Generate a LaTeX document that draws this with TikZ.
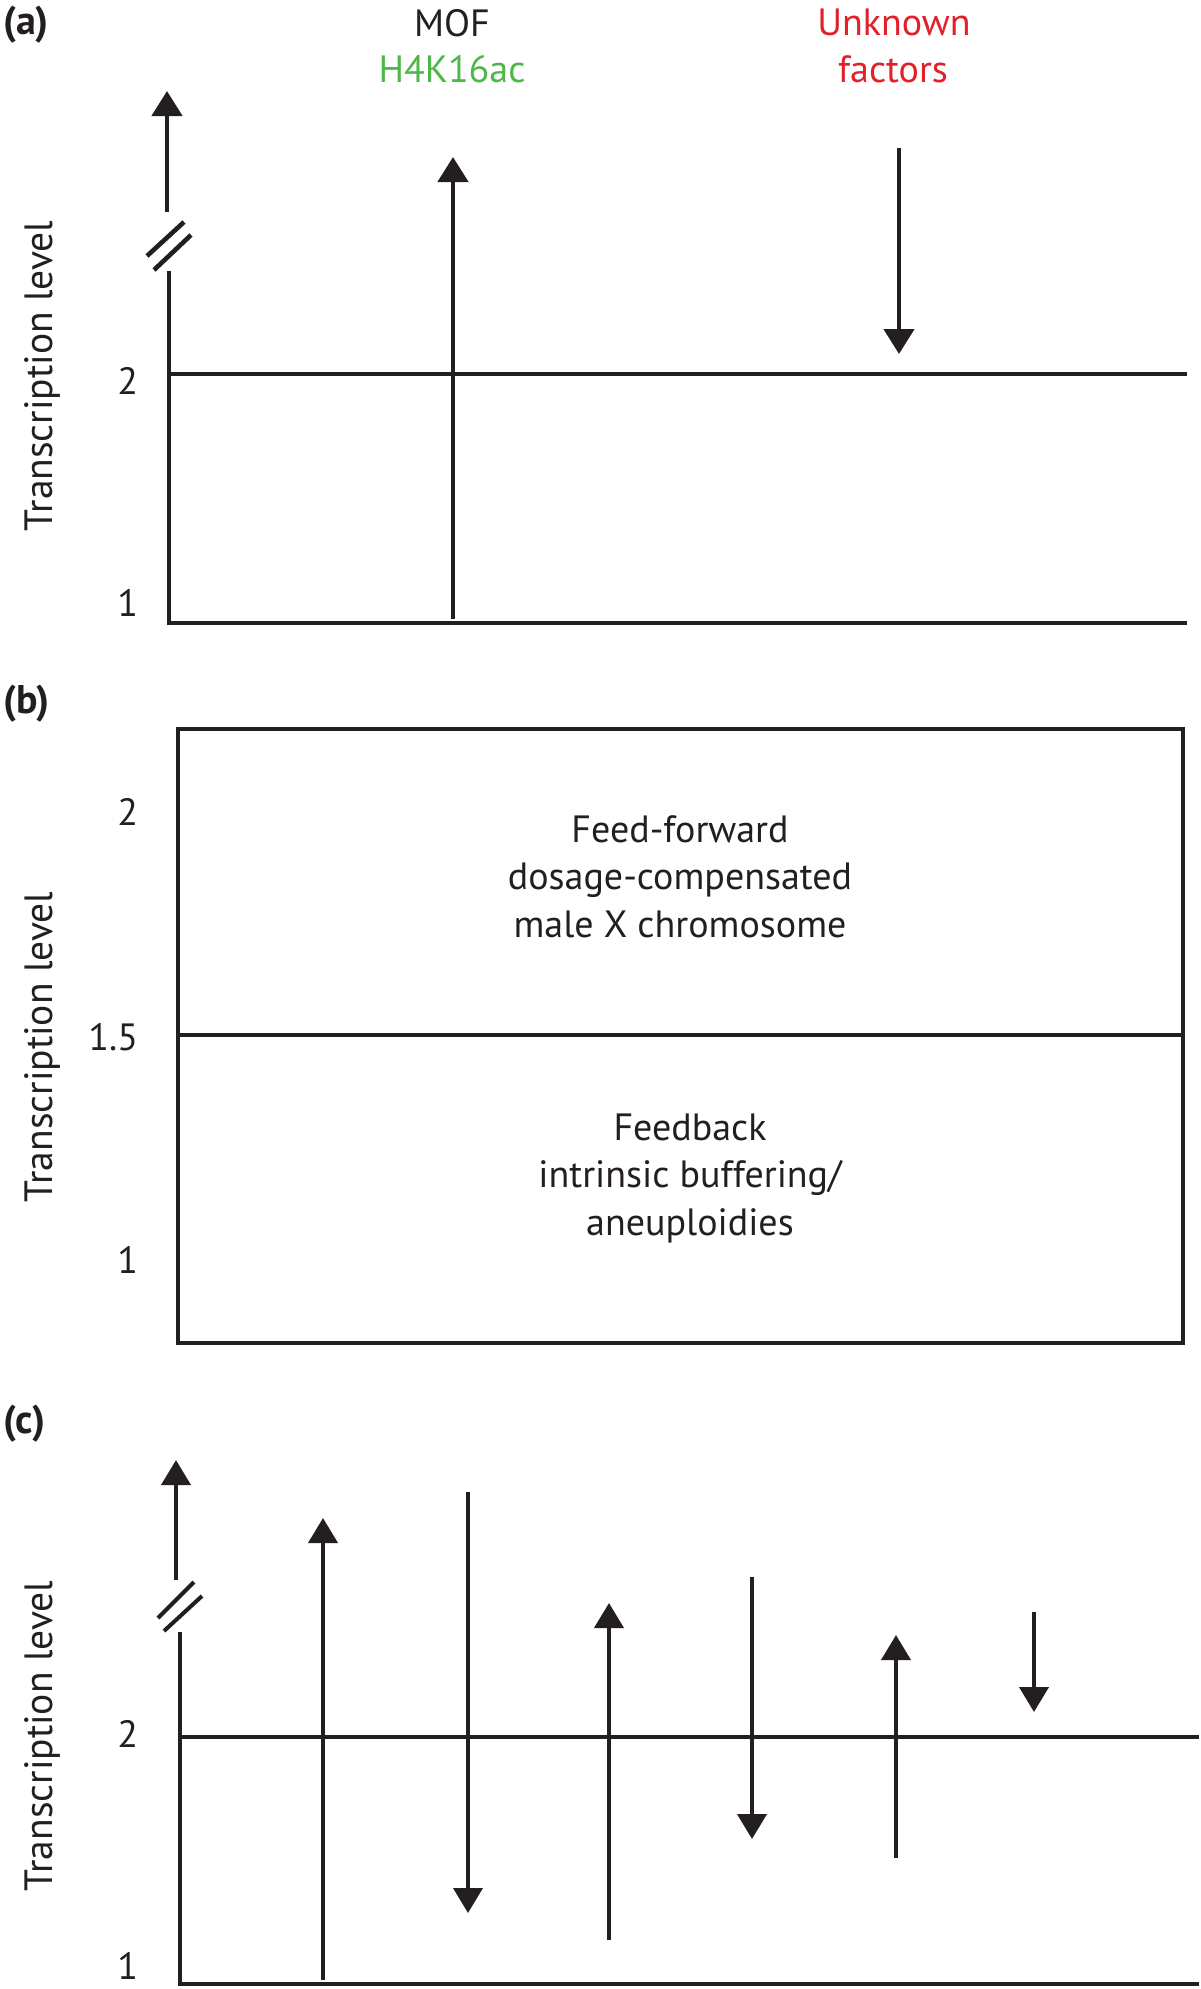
\documentclass[tikz,border=0pt]{standalone}
\usepackage{fontspec}
\setmainfont{PT Sans}
\usetikzlibrary{arrows.meta}
\definecolor{ink}{HTML}{231F20}
\definecolor{mofgreen}{HTML}{4CB848}
\definecolor{unkred}{HTML}{E3202A}
\begin{document}
\begin{tikzpicture}[x=1pt,y=-1pt,
  txt/.style={inner sep=0pt,outer sep=0pt,text=ink,font=\fontsize{38}{47.5}\selectfont},
  lbl/.style={inner sep=0pt,outer sep=0pt,text=ink,font=\fontsize{40}{44}\selectfont\bfseries},
  ylab/.style={txt,rotate=90,anchor=base,font=\fontsize{39.5}{47.5}\selectfont},
  num/.style={txt,anchor=base east},
  lnA/.style={draw=ink,line width=4.6pt},
  lnB/.style={draw=ink,line width=4.3pt},
  lnC/.style={draw=ink,line width=4pt},
  tipA/.style={-{Triangle[length=25pt,width=30pt]}},
  tipC/.style={-{Triangle[length=25pt,width=29pt]}}]
\useasboundingbox (0,0) rectangle (1200,1989);
\fill[white] (0,0) rectangle (1200,1989);

% ---------------- panel (a)
\node[lbl,anchor=base west] (la) at (3,34) {(a)};
\node[ylab] (ya) at (52,376) {Transcription level};
\node[num] (a2) at (138,394) {2};
\node[num] (a1) at (138,616) {1};
\node[txt,anchor=base] (mof) at (452,36) {MOF};
\node[txt,anchor=base,text=mofgreen] (h4) at (452,82) {H4K16ac};
\node[txt,anchor=base,text=unkred] (unk) at (894,35) {Unknown};
\node[txt,anchor=base,text=unkred] (fac) at (893,82) {factors};
\coordinate (aTop) at (169,271);
\coordinate (aO) at (169,623);
\coordinate (aR) at (1187,623);
\coordinate (a2L) at (169,374);
\coordinate (a2R) at (1187,374);
\draw[lnA,line join=miter] (aTop) -- (aO) -- (aR);
\draw[lnA] (a2L) -- (a2R);
\coordinate (aUpS) at (167,212); \coordinate (aUpE) at (167,91);
\draw[lnA,tipA] (aUpS) -- (aUpE);
\coordinate (aB1s) at (147,256); \coordinate (aB1e) at (184,222);
\coordinate (aB2s) at (154,270); \coordinate (aB2e) at (191,235);
\draw[lnA] (aB1s) -- (aB1e);
\draw[lnA] (aB2s) -- (aB2e);
\coordinate (mofS) at (453,619); \coordinate (mofE) at (453,157);
\draw[lnA,tipA] (mofS) -- (mofE);
\coordinate (unkS) at (899,148); \coordinate (unkE) at (899,354);
\draw[lnA,tipA] (unkS) -- (unkE);

% ---------------- panel (b)
\node[lbl,anchor=base west] (lb) at (3,713) {(b)};
\node[ylab] (yb) at (52,1047) {Transcription level};
\node[num] (b2) at (138,825) {2};
\node[num] (b15) at (138,1050) {1.5};
\node[num] (b1) at (138,1273) {1};
\coordinate (bTL) at (178,729);
\coordinate (bBR) at (1183,1343);
\draw[lnB] (bTL) rectangle (bBR);
\coordinate (bML) at (178,1035); \coordinate (bMR) at (1183,1035);
\draw[lnB] (bML) -- (bMR);
\node[txt,anchor=base] (ff1) at (680,842) {Feed-forward};
\node[txt,anchor=base] (ff2) at (680,889.5) {dosage-compensated};
\node[txt,anchor=base] (ff3) at (680,937) {male X chromosome};
\node[txt,anchor=base] (fb1) at (690,1140) {Feedback};
\node[txt,anchor=base] (fb2) at (690,1187.5) {intrinsic buffering/};
\node[txt,anchor=base] (fb3) at (690,1235) {aneuploidies};

% ---------------- panel (c)
\node[lbl,anchor=base west] (lc) at (3,1433) {(c)};
\node[ylab] (yc) at (52,1736) {Transcription level};
\node[num] (c2) at (138,1747) {2};
\node[num] (c1) at (138,1979) {1};
\coordinate (cTop) at (180,1632);
\coordinate (cO) at (180,1984);
\coordinate (cR) at (1199,1984);
\coordinate (c2L) at (180,1737);
\coordinate (c2R) at (1199,1737);
\draw[lnC,line join=miter] (cTop) -- (cO) -- (cR);
\draw[lnC] (c2L) -- (c2R);
\coordinate (cUpS) at (176,1580); \coordinate (cUpE) at (176,1460);
\draw[lnC,tipC] (cUpS) -- (cUpE);
\coordinate (cB1s) at (158,1618); \coordinate (cB1e) at (194,1582);
\coordinate (cB2s) at (164,1631); \coordinate (cB2e) at (202,1596);
\draw[lnC] (cB1s) -- (cB1e);
\draw[lnC] (cB2s) -- (cB2e);
\coordinate (c1s) at (323,1980); \coordinate (c1e) at (323,1518);
\coordinate (c2s) at (468,1492); \coordinate (c2e) at (468,1913);
\coordinate (c3s) at (609,1940); \coordinate (c3e) at (609,1603);
\coordinate (c4s) at (752,1577); \coordinate (c4e) at (752,1839);
\coordinate (c5s) at (896,1858); \coordinate (c5e) at (896,1635);
\coordinate (c6s) at (1034,1612); \coordinate (c6e) at (1034,1712);
\draw[lnC,tipC] (c1s) -- (c1e);
\draw[lnC,tipC] (c2s) -- (c2e);
\draw[lnC,tipC] (c3s) -- (c3e);
\draw[lnC,tipC] (c4s) -- (c4e);
\draw[lnC,tipC] (c5s) -- (c5e);
\draw[lnC,tipC] (c6s) -- (c6e);
\end{tikzpicture}
\end{document}
